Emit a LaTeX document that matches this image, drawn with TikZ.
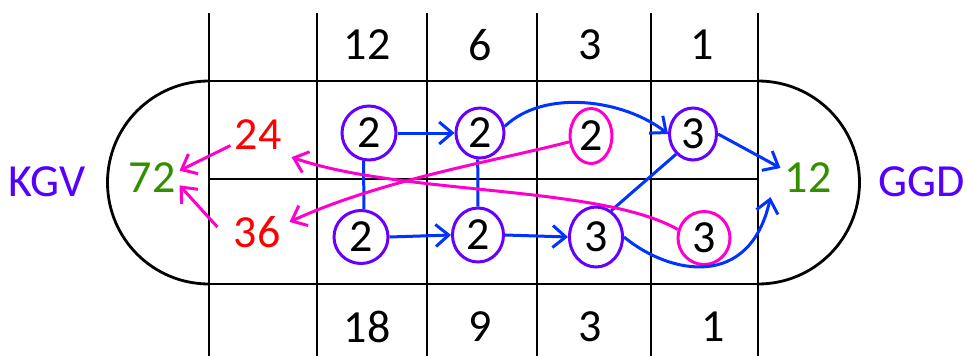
\documentclass[tikz,border=0pt]{standalone}
\usepackage{fontspec}
\setmainfont{Carlito}
\usetikzlibrary{arrows.meta,shapes.geometric}
\definecolor{purp}{RGB}{85,0,255}
\definecolor{cborder}{RGB}{102,0,255}
\definecolor{bluear}{RGB}{0,51,255}
\definecolor{pinkar}{RGB}{255,0,204}
\definecolor{redtxt}{RGB}{255,0,0}
\definecolor{greentxt}{RGB}{51,143,0}
\tikzset{
  grid line/.style={line width=2.8pt, black},
  lbl/.style={font=\fontsize{46}{50}\selectfont, inner sep=4pt},
  pcirc/.style={ellipse, draw=cborder, line width=3pt, inner sep=0pt, font=\fontsize{46}{50}\selectfont},
  kcirc/.style={ellipse, draw=pinkar, line width=3pt, inner sep=0pt, font=\fontsize{46}{50}\selectfont},
  bluearrow/.style={bluear, line width=3pt, -{Straight Barb[length=13pt,width=22pt]}},
  blueline/.style={bluear, line width=3pt},
  pinkarrow/.style={pinkar, line width=3pt, -{Straight Barb[length=13pt,width=22pt]}},
}
\begin{document}
\begin{tikzpicture}[x=1pt,y=-1pt]
\useasboundingbox (0,0) rectangle (970,356);
% grid
\foreach \xx in {209,317,427,537,651,758} \draw[grid line] (\xx,13) -- (\xx,356);
\foreach \yy in {81,179,284} \draw[grid line] (209,\yy) -- (758,\yy);
% end caps
\draw[grid line] (209,81) .. controls (152.9,81) and (107.5,126.4) .. (107.5,182.5)
  .. controls (107.5,238.6) and (152.9,284) .. (209,284);
\draw[grid line] (758,81) .. controls (814.1,81) and (859.5,126.4) .. (859.5,182.5)
  .. controls (859.5,238.6) and (814.1,284) .. (758,284);
% header numbers
\node[lbl] (t1) at (367,45) {12};
\node[lbl] (t2) at (480,45) {6};
\node[lbl] (t3) at (590,45) {3};
\node[lbl] (t4) at (702,45) {1};
\node[lbl] (u1) at (367,327) {18};
\node[lbl] (u2) at (480,327) {9};
\node[lbl] (u3) at (590,327) {3};
\node[lbl] (u4) at (713,327) {1};
% side labels
\node[lbl, text=purp] (kgv) at (47,182) {KGV};
\node[lbl, text=purp] (ggd) at (922,182) {GGD};
\node[lbl, text=greentxt] (n72) at (152,178) {72};
\node[lbl, text=greentxt] (n12) at (808,178) {12};
\node[lbl, text=redtxt] (n24) at (258,135) {24};
\node[lbl, text=redtxt] (n36) at (257,232) {36};
% circles
\node[pcirc, minimum width=54pt, minimum height=54pt] (a1) at (369,133) {2};
\node[pcirc, minimum width=48pt, minimum height=50pt] (a2) at (480,133) {2};
\node[kcirc, minimum width=42pt, minimum height=55pt] (p2) at (591,136) {2};
\node[pcirc, minimum width=47pt, minimum height=52pt] (a3) at (693,134) {3};
\node[pcirc, minimum width=54pt, minimum height=53pt] (b1) at (361,237) {2};
\node[pcirc, minimum width=51pt, minimum height=54pt] (b2) at (478,235) {2};
\node[pcirc, minimum width=53pt, minimum height=60pt] (b3) at (596,237) {3};
\node[kcirc, minimum width=52pt, minimum height=53pt] (p3) at (704,238) {3};
% blue connectors
\draw[blueline] (a1.259) -- (b1.84);
\draw[blueline] (a2.265) -- (b2.north);
\draw[bluearrow] (a1.east) -- (a2.west);
\draw[bluearrow] (b1.east) -- (b2.west);
\draw[bluearrow] (b2.east) -- (b3.west);
\draw[bluearrow] (a2.15) .. controls (545,88) and (625,100) .. (a3.west);
\draw[bluearrow] (a3.east) -- (n12.160);
\draw[blueline] (b3.60) -- (a3.230);
\draw[bluearrow] (b3.east) .. controls (670,275) and (750,290) .. ([xshift=-10pt]n12.south west);
% pink connectors
\draw[pinkarrow] (n24.201) -- (n72.15);
\draw[pinkarrow] ([xshift=-12pt]n36.170) -- (n72.-15);
\draw[pinkarrow] (p3.162) .. controls (600,185) and (400,195) .. ([shift={(6pt,-3pt)}]n24.south east);
\draw[pinkarrow] (p2.195) .. controls (500,160) and (380,180) .. ([xshift=5pt]n36.20);
\end{tikzpicture}
\end{document}
